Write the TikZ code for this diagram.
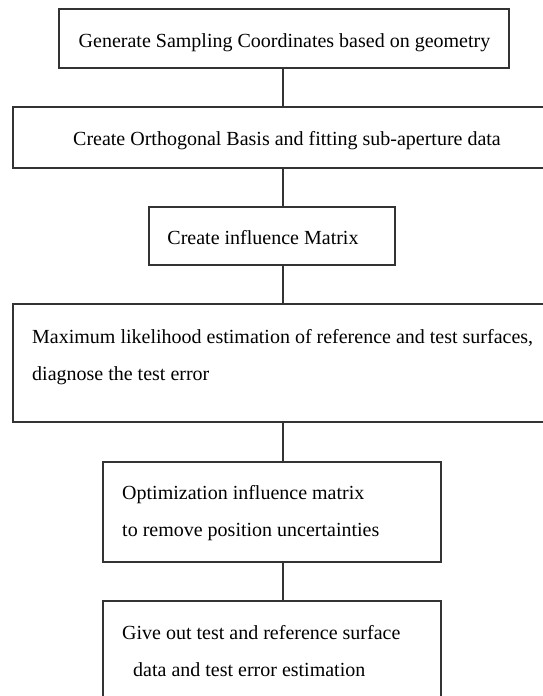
\documentclass[tikz,border=0pt]{standalone}
\usepackage{fontspec}
\setmainfont{Liberation Serif}
\begin{document}
\begin{tikzpicture}[x=1pt,y=-1pt,
  box/.style={draw=black!80, line width=1.6pt, rectangle, inner sep=0pt},
  txt/.style={inner sep=0pt, font=\fontsize{20}{20}\selectfont},
  mtxt/.style={inner sep=0pt, align=left, anchor=west},
  conn/.style={draw=black!80, line width=1.6pt}]
\useasboundingbox (0,0) rectangle (543,696);
\clip (0,0) rectangle (543,696);
\fill[white] (0,0) rectangle (543,696);
% boxes
\node[box, minimum width=450pt, minimum height=59pt] (b1) at (284,38.5) {};
\node[box, minimum width=540pt, minimum height=61pt] (b2) at (283,137.5) {};
\node[box, minimum width=246pt, minimum height=58pt] (b3) at (272,236) {};
\node[box, minimum width=540pt, minimum height=118pt] (b4) at (283,363) {};
\node[box, minimum width=338pt, minimum height=100pt] (b5) at (272,512) {};
\node[box, minimum width=338pt, minimum height=100pt] (b6) at (272,651) {};
% texts
\node[txt, anchor=base] (t1) at (284.5,47) {Generate Sampling Coordinates based on geometry};
\node[txt, anchor=base] (t2) at (287,145) {Create Orthogonal Basis and fitting sub-aperture data};
\node[txt, anchor=base] (t3) at (263,244) {Create influence Matrix};
\node[mtxt, font=\fontsize{20}{37}\selectfont] (t4) at (32,357) {Maximum likelihood estimation of reference and test surfaces,\\diagnose the test error};
\node[mtxt, font=\fontsize{20}{37}\selectfont] (t5) at (122,513.5) {Optimization influence matrix\\to remove position uncertainties};
\node[mtxt, font=\fontsize{20}{37}\selectfont] (t6) at (122,651.5) {Give out test and reference surface\\\hspace*{11pt}data and test error estimation};
% connectors
\coordinate (cx) at (283,0);
\draw[conn] (b1.south -| cx) -- (b2.north -| cx);
\draw[conn] (b2.south -| cx) -- (b3.north -| cx);
\draw[conn] (b3.south -| cx) -- (b4.north -| cx);
\draw[conn] (b4.south -| cx) -- (b5.north -| cx);
\draw[conn] (b5.south -| cx) -- (b6.north -| cx);
\end{tikzpicture}
\end{document}
